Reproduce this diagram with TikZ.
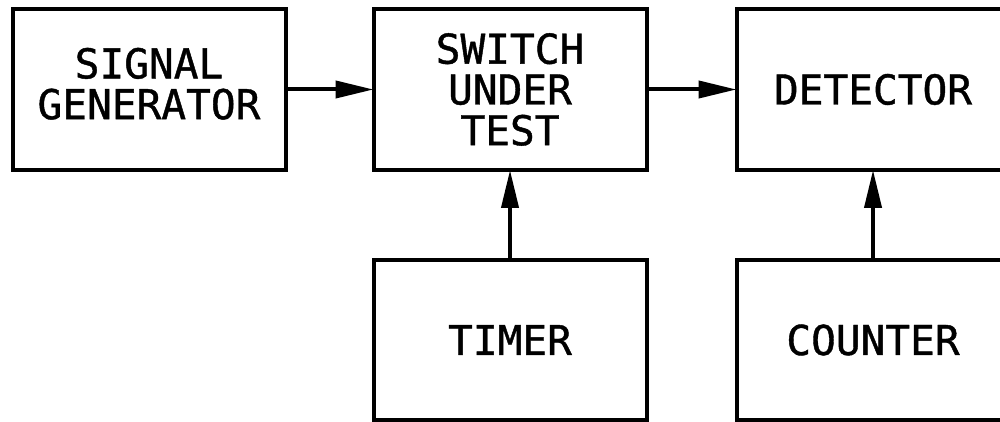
\documentclass[tikz,border=0pt]{standalone}
\usepackage{fontspec}
\usepackage{tikz}
\usetikzlibrary{positioning,arrows.meta}
\newfontfamily\blkfont{DejaVu Sans Mono}[FakeBold=1]

\begin{document}
\begin{tikzpicture}[>={Triangle[length=3.8mm,width=1.7mm]},line width=0.04cm,
    blk/.style={draw,minimum width=2.73cm,minimum height=1.61cm,inner sep=0pt,
      outer sep=0pt,align=center,font=\blkfont\fontsize{11.7}{11.6}\selectfont}]
        \useasboundingbox (0,0) rectangle (10,-4.22);
        % Blocks
        \node[blk] (sw) at (5.10,-0.895) {SWITCH\\UNDER\\TEST};
        \node[blk,left=0.88cm of sw,text depth=0.12cm] (gen) {SIGNAL\\GENERATOR};
        \node[blk,right=0.9cm of sw] (det) {DETECTOR};
        \node[blk,below=0.9cm of sw,minimum height=1.6cm] (tmr) {TIMER};
        \node[blk,below=0.9cm of det,minimum height=1.6cm] (cnt) {COUNTER};
        % Connections
        \draw[->] (gen) -- (sw);
        \draw[->] (sw) -- (det);
        \draw[->] (tmr) -- (sw);
        \draw[->] (cnt) -- (det);
\end{tikzpicture}
\end{document}
